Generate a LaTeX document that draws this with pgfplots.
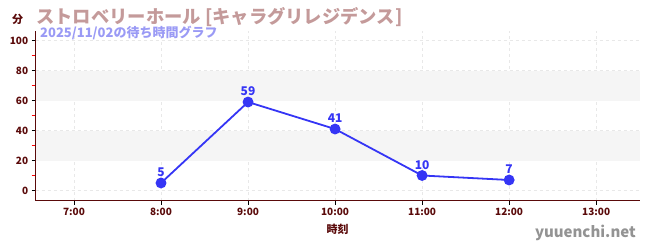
\documentclass[border=0pt]{standalone}
\usepackage{pgfplots}
\pgfplotsset{compat=1.18}
\usepackage{fontspec}
\setmainfont{Noto Sans CJK JP}
\definecolor{axred}{HTML}{5A0A0A}
\definecolor{ttl}{HTML}{C49A9A}
\definecolor{sub}{HTML}{9A9AF5}
\definecolor{ln}{HTML}{3535F5}
\begin{document}
\begin{tikzpicture}[x=1pt,y=1pt]
\useasboundingbox (0,0) rectangle (650,250);
\begin{axis}[
  at={(41,33)}, anchor=south west,
  scale only axis, width=604pt, height=170pt,
  xmin=6.56, xmax=13.5, ymin=-6.7, ymax=106.7,
  axis x line*=bottom, axis y line*=left,
  axis line style={axred, line width=0.9pt, -},
  xtick={7,8,9,10,11,12,13},
  xticklabels={7:00,8:00,9:00,10:00,11:00,12:00,13:00},
  ytick={0,20,40,60,80,100},
  minor ytick={10,30,50,70,90},
  tick label style={font=\fontsize{10}{12}\selectfont\bfseries, text=axred},
  /pgf/number format/assume math mode=true,
  major tick length=4pt, minor tick length=4pt,
  tick style={black, line width=0.6pt},
  minor tick style={red},
  tick align=outside,
  grid=major,
  major grid style={gray!18, dashed, line width=0.5pt},
  xlabel={時刻}, xlabel style={font=\fontsize{11}{13}\selectfont\bfseries, text=axred, yshift=-2pt},
  clip=false,
]
\fill[black!4] (axis cs:6.56,20) rectangle (axis cs:13.5,40);
\fill[black!4] (axis cs:6.56,60) rectangle (axis cs:13.5,80);
\addplot[ln, line width=1.8pt, mark=*, mark size=4.5pt, mark options={fill=ln, draw=ln},
  nodes near coords, every node near coord/.append style={font=\fontsize{12}{14}\selectfont\bfseries, text=ln, yshift=2pt}]
 coordinates {(8,5) (9,59) (10,41) (11,10) (12,7)};
\end{axis}
\node[anchor=base west, font=\fontsize{11}{13}\selectfont\bfseries, text=axred, inner sep=0] at (12,227) {分};
\node[anchor=base west, font=\fontsize{18.3}{20}\selectfont\bfseries, text=ttl, inner sep=0] at (36,227) {ストロベリーホール [キャラグリレジデンス]};
\node[anchor=base west, font=\fontsize{13}{15}\selectfont\bfseries, text=sub, inner sep=0] at (40,213) {2025/11/02の待ち時間グラフ};
\node[anchor=base east, font=\fontsize{15}{18}\selectfont\bfseries, text=gray!85, inner sep=0] at (636,13) {yuuenchi.net};
\end{tikzpicture}
\end{document}
